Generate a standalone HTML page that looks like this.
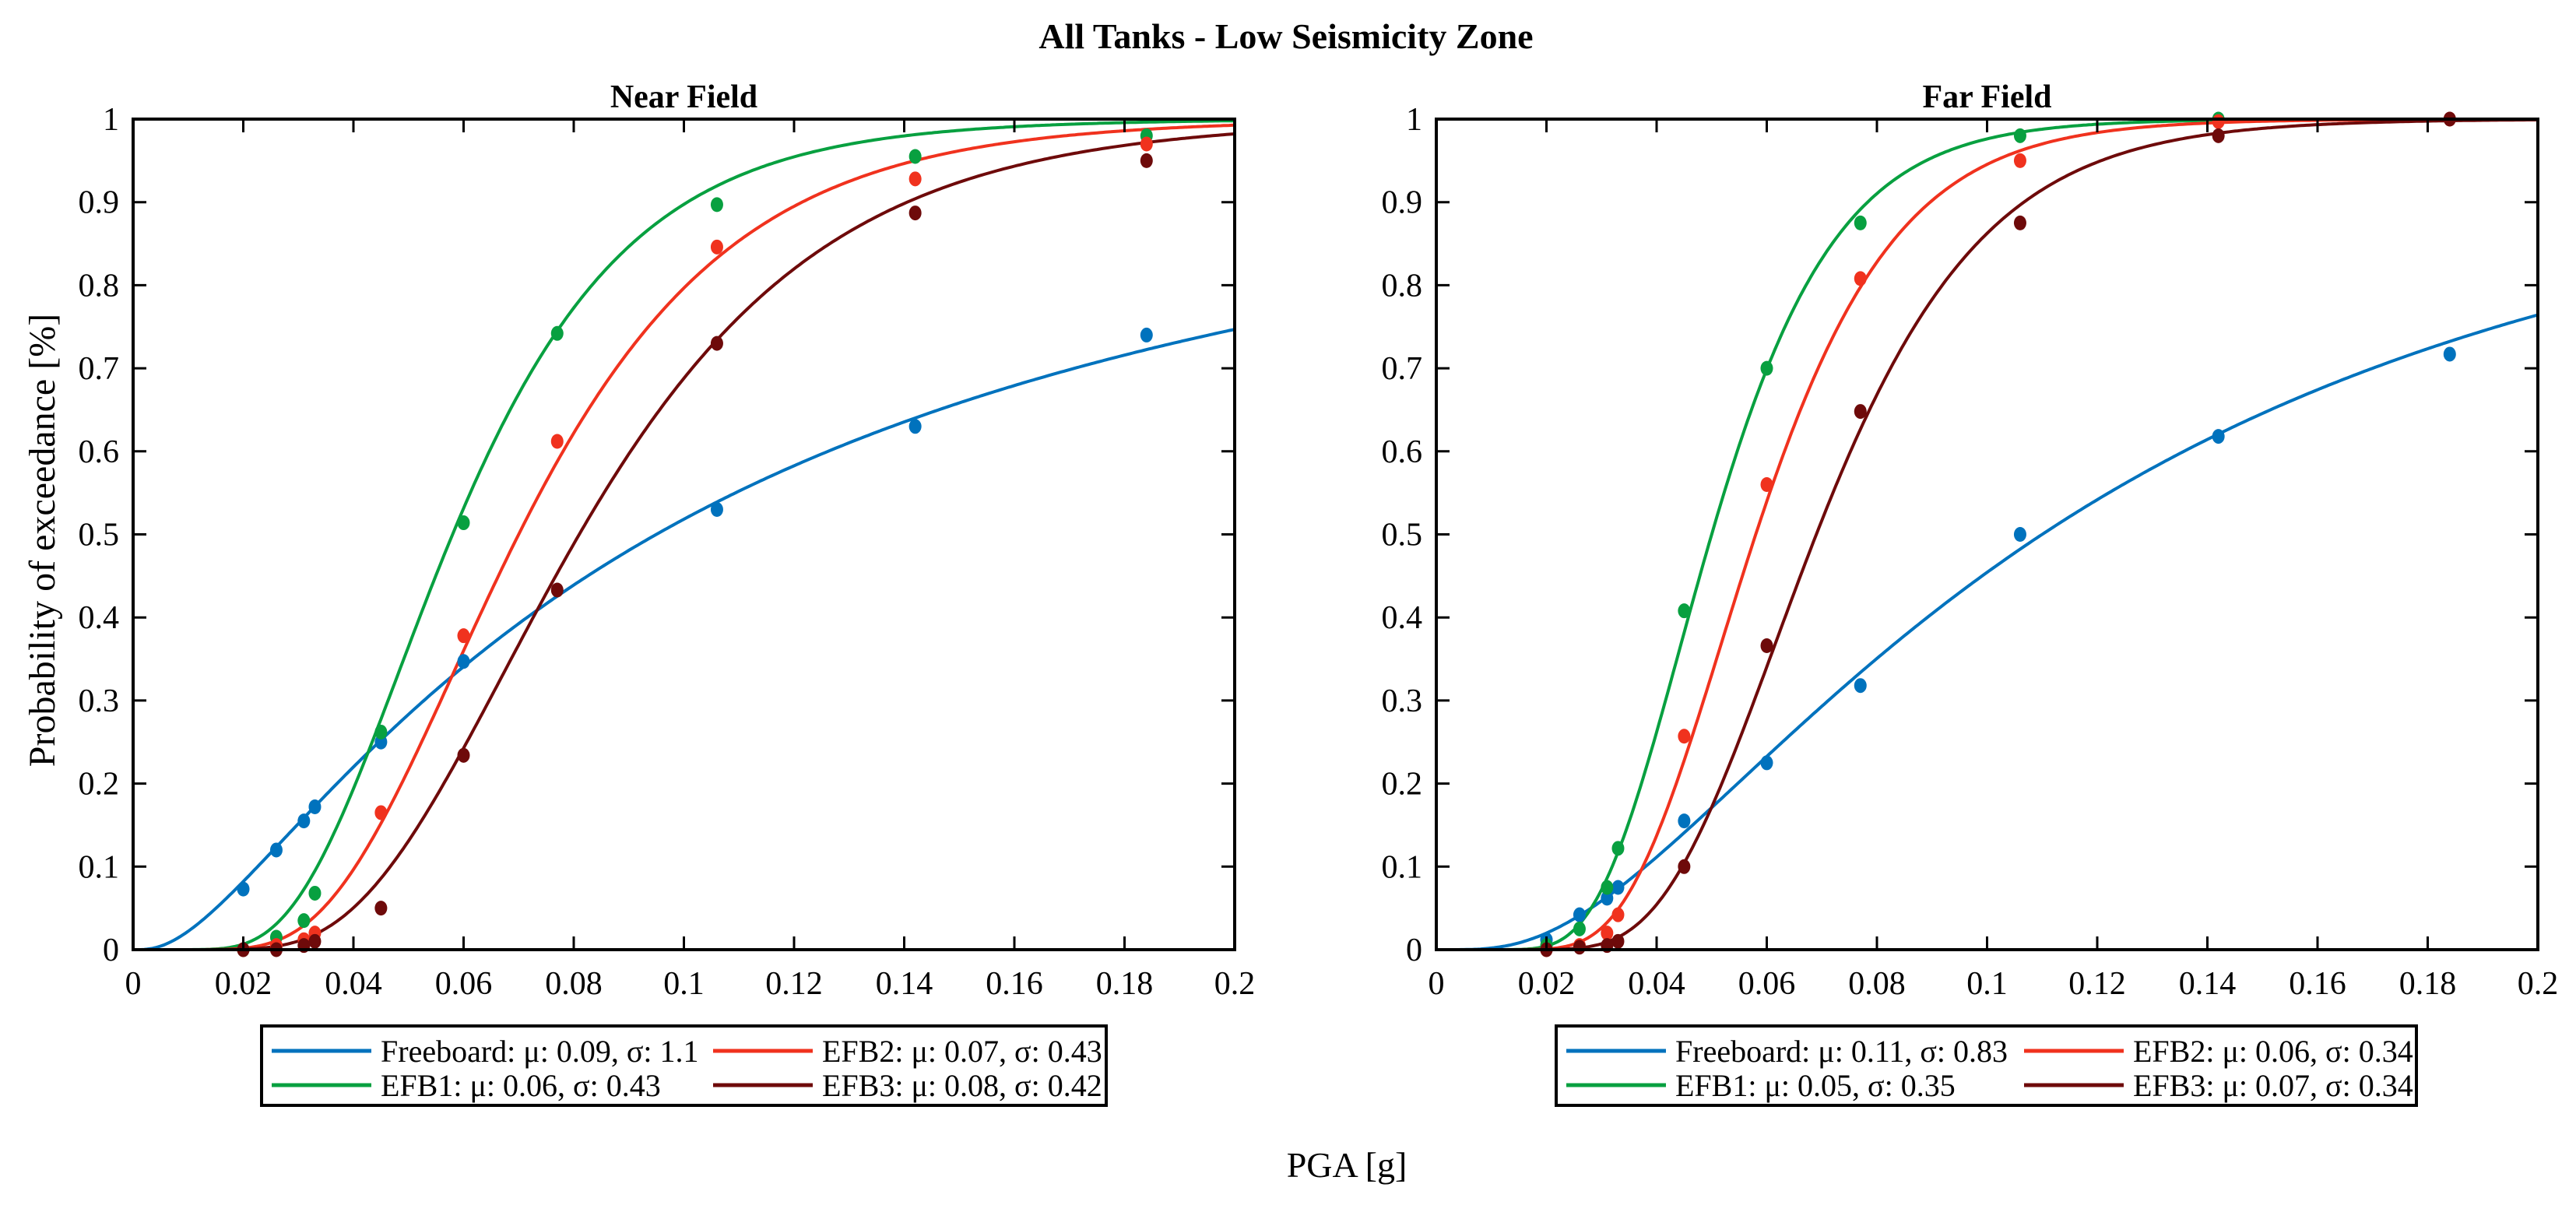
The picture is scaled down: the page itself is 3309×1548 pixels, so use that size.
<!DOCTYPE html>
<html><head><meta charset="utf-8"><style>
html,body{margin:0;padding:0;background:#fff;}
svg{display:block;}
svg text{font-family:"Liberation Serif",serif;fill:#000;}
</style></head><body>
<svg id="fig" width="3309" height="1548" viewBox="0 0 3309 1548" xmlns="http://www.w3.org/2000/svg" font-family="Liberation Serif, serif">
<text x="1652" y="62" font-size="46" font-weight="bold" text-anchor="middle" font-family="Liberation Serif, serif">All Tanks - Low Seismicity Zone</text>
<text x="1730" y="1512" font-size="46" text-anchor="middle" font-family="Liberation Serif, serif">PGA [g]</text>
<text transform="translate(70,694) rotate(-90)" font-size="48" text-anchor="middle" font-family="Liberation Serif, serif">Probability of exceedance [%]</text>
</svg>
<script>
// Shared data
const pgaLevels = [0.02, 0.026, 0.031, 0.033, 0.045, 0.06, 0.077, 0.106, 0.142, 0.184];
const xTicks = [0, 0.02, 0.04, 0.06, 0.08, 0.1, 0.12, 0.14, 0.16, 0.18, 0.2];
const xTickLabels = ["0","0.02","0.04","0.06","0.08","0.1","0.12","0.14","0.16","0.18","0.2"];
const yTicks = [0,0.1,0.2,0.3,0.4,0.5,0.6,0.7,0.8,0.9,1];
const yTickLabels = ["0","0.1","0.2","0.3","0.4","0.5","0.6","0.7","0.8","0.9","1"];
const seriesNames = ["Freeboard","EFB1","EFB2","EFB3"];
const seriesColors = ["#0072BD","#08A040","#F0321E","#6E0A0A"];

// Near field
const nearMu = [0.095, 0.058, 0.07, 0.081];
const nearSigma = [1.12, 0.43, 0.43, 0.43];
const nearLegend = ["Freeboard: μ: 0.09, σ: 1.1","EFB1: μ: 0.06, σ: 0.43","EFB2: μ: 0.07, σ: 0.43","EFB3: μ: 0.08, σ: 0.42"];
const nearFreeboard = [0.073,0.12,0.155,0.172,0.25,0.347,null,0.53,0.63,0.74];
const nearEFB1 = [0,0.015,0.035,0.068,0.262,0.514,0.742,0.897,0.955,0.98];
const nearEFB2 = [0,0.005,0.012,0.02,0.165,0.378,0.612,0.846,0.928,0.97];
const nearEFB3 = [0,0,0.005,0.01,0.05,0.234,0.433,0.73,0.887,0.95];

// Far field
const farMu = [0.11, 0.05, 0.058, 0.069];
const farSigma = [0.83, 0.35, 0.34, 0.34];
const farLegend = ["Freeboard: μ: 0.11, σ: 0.83","EFB1: μ: 0.05, σ: 0.35","EFB2: μ: 0.06, σ: 0.34","EFB3: μ: 0.07, σ: 0.34"];
const farFreeboard = [0.012,0.042,0.062,0.075,0.155,0.225,0.318,0.5,0.618,0.717];
const farEFB1 = [0.005,0.025,0.075,0.122,0.408,0.7,0.875,0.98,1.0,null];
const farEFB2 = [0,0.005,0.02,0.042,0.257,0.56,0.808,0.95,0.997,1.0];
const farEFB3 = [0,0.003,0.005,0.01,0.1,0.366,0.648,0.875,0.98,1.0];

const NS = "http://www.w3.org/2000/svg";
const FONT = "Liberation Serif, serif";
const svg = document.getElementById('fig');
function mk(tag, attrs, parent){ const e=document.createElementNS(NS,tag); for(const k in attrs) e.setAttribute(k,attrs[k]); if(tag==='text') e.setAttribute('font-family',FONT); (parent||svg).appendChild(e); return e; }
function erf(x){const s=x<0?-1:1;x=Math.abs(x);const t=1/(1+0.3275911*x);const y=1-(((((1.061405429*t-1.453152027)*t)+1.421413741)*t-0.284496736)*t+0.254829592)*t*Math.exp(-x*x);return s*y;}
function lognCdf(x,mu,s){ if(x<=0) return 0; return 0.5*(1+erf(Math.log(x/mu)/(s*Math.SQRT2))); }

function panel(key, title, left, mus, sigmas, pts, legend, legBox){
  const L=left, R=left+1415, T=153, B=1220;
  const sx=v=>L+(v/0.2)*(R-L);
  const sy=v=>B-v*(B-T);
  const g=mk('g',{});
  
  
  const t=mk('text',{x:(L+R)/2,y:138,'font-size':42,'font-weight':'bold','text-anchor':'middle'},g);
  t.textContent=title;
  
  
  for(let i=0;i<4;i++){
    let d='';
    for(let k=0;k<=400;k++){const x=0.2*k/400; d+=(k?'L':'M')+sx(x).toFixed(1)+' '+sy(lognCdf(x,mus[i],sigmas[i])).toFixed(1);}
    const p=mk('path',{d:d,fill:'none',stroke:seriesColors[i],'stroke-width':4},g);
    
    
  }
  for(let i=0;i<4;i++){
    pts[i].forEach((v,j)=>{
      if(v===null) return;
      const c=mk('ellipse',{cx:sx(pgaLevels[j]),cy:sy(v),rx:8,ry:9.5,fill:seriesColors[i]},g);
      
      
    });
  }
  xTicks.forEach((v,j)=>{
    const x=sx(v);
    mk('line',{x1:x,y1:B,x2:x,y2:B-17,stroke:'#000','stroke-width':3},g);
    mk('line',{x1:x,y1:T,x2:x,y2:T+17,stroke:'#000','stroke-width':3},g);
    const tx=mk('text',{x:x,y:B+57,'font-size':42,'text-anchor':'middle'},g);
    tx.textContent=xTickLabels[j];
    
    
  });
  yTicks.forEach((v,j)=>{
    const y=sy(v);
    mk('line',{x1:L,y1:y,x2:L+17,y2:y,stroke:'#000','stroke-width':3},g);
    mk('line',{x1:R,y1:y,x2:R-17,y2:y,stroke:'#000','stroke-width':3},g);
    const ty=mk('text',{x:L-18,y:y+14,'font-size':42,'text-anchor':'end'},g);
    ty.textContent=yTickLabels[j];
    
    
  });
  const box=mk('rect',{x:L,y:T,width:R-L,height:B-T,fill:'none',stroke:'#000','stroke-width':4},g);
  
  
  const lg=mk('g',{},g);
  
  
  mk('rect',{x:legBox[0],y:1318,width:legBox[1],height:102,fill:'#fff',stroke:'#000','stroke-width':4},lg);
  const order=[0,2,1,3];
  order.forEach((si,k)=>{
    const col=k%2, row=Math.floor(k/2);
    const lx=legBox[0]+13+col*legBox[2];
    const ly=1350+row*44;
    mk('line',{x1:lx,y1:ly,x2:lx+128,y2:ly,stroke:seriesColors[si],'stroke-width':5},lg);
    const tx=mk('text',{x:lx+140,y:ly+14,'font-size':40},lg);
    tx.textContent=legend[si];
    
    
  });
}
panel('near-field','Near Field',171,nearMu,nearSigma,[nearFreeboard,nearEFB1,nearEFB2,nearEFB3],nearLegend,[336,1085,567]);
panel('far-field','Far Field',1845,farMu,farSigma,[farFreeboard,farEFB1,farEFB2,farEFB3],farLegend,[1999,1105,588]);
</script>
</body></html>
